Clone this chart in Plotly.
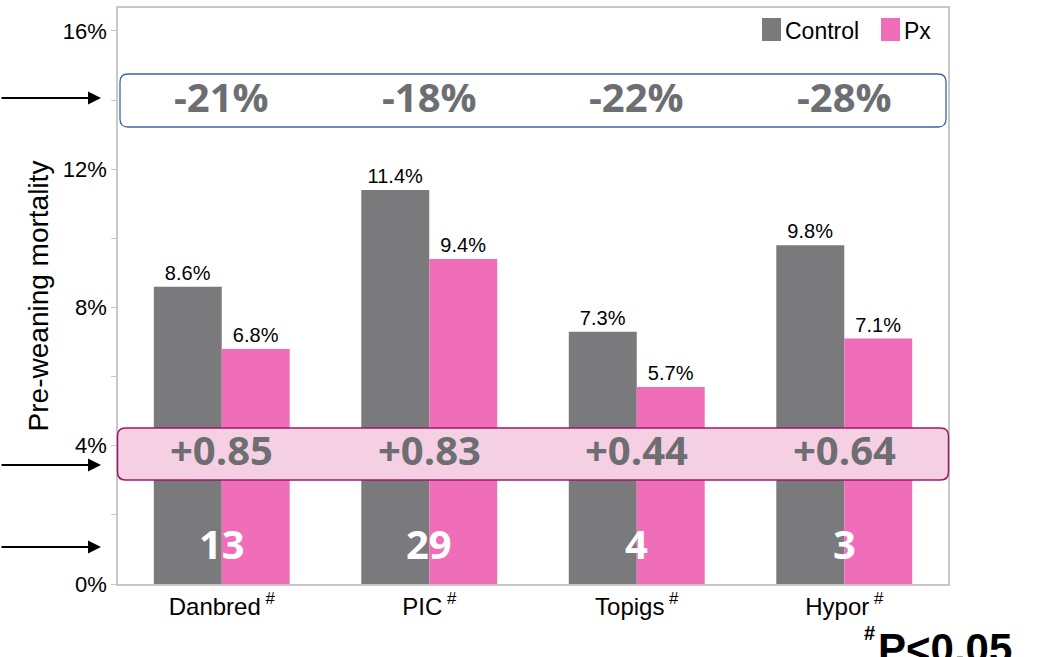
import plotly.graph_objects as go

categories = ["Danbred", "PIC", "Topigs", "Hypor"]
tick_labels = ["Danbred<sup> #</sup>", "PIC<sup> #</sup>", "Topigs<sup> #</sup>", "Hypor<sup> #</sup>"]
control = [8.6, 11.4, 7.3, 9.8]
px_vals = [6.8, 9.4, 5.7, 7.1]
reduction = [-21, -18, -22, -28]
gain = [0.85, 0.83, 0.44, 0.64]
n_farms = [13, 29, 4, 3]
series_names = ["Control", "Px"]

GRAY = "#7a7a7c"
PINK = "#f06eb9"
TXT = "#6d6e71"
BIG_FONT = "Open Sans"
FONT = "Liberation Sans, Arial, sans-serif"

W, H = 1043, 657
ML, MR, MT, MB = 118, 95, 8, 73
PW, PH = W - ML - MR, H - MT - MB


def px2x(px):
    return (px - ML) / PW


def px2y(py):
    return (H - MB - py) / PH


def rounded(x0p, y0p, x1p, y1p, r):
    x0, x1 = px2x(x0p), px2x(x1p)
    yt, yb = px2y(y0p), px2y(y1p)
    rx, ry = r / PW, r / PH
    return (f"M{x0+rx},{yt} L{x1-rx},{yt} Q{x1},{yt} {x1},{yt-ry} "
            f"L{x1},{yb+ry} Q{x1},{yb} {x1-rx},{yb} L{x0+rx},{yb} "
            f"Q{x0},{yb} {x0},{yb+ry} L{x0},{yt-ry} Q{x0},{yt} {x0+rx},{yt} Z")


fig = go.Figure()
for name, vals, col in [(series_names[0], control, GRAY), (series_names[1], px_vals, PINK)]:
    fig.add_trace(go.Bar(
        x=categories, y=vals, name=name, marker=dict(color=col, line=dict(width=0)),
        text=[f"{v:.1f}%" for v in vals], textposition="outside", constraintext="none",
        textfont=dict(family=FONT, size=20, color="black"), cliponaxis=False,
        showlegend=False,
    ))

shapes = [
    dict(type="path", xref="paper", yref="paper", path=rounded(120, 74, 946, 127, 8),
         line=dict(color="#3d64a8", width=1.3), fillcolor="white", layer="above"),
    dict(type="path", xref="paper", yref="paper", path=rounded(117.5, 428, 948.5, 480, 8),
         line=dict(color="#9a1a6a", width=1.5), fillcolor="#f5d0e3", layer="above"),
    # manual legend swatches
    dict(type="rect", xref="paper", yref="paper", x0=px2x(762), x1=px2x(781),
         y0=px2y(41), y1=px2y(18), fillcolor=GRAY, line=dict(width=0)),
    dict(type="rect", xref="paper", yref="paper", x0=px2x(881), x1=px2x(900),
         y0=px2y(41), y1=px2y(18), fillcolor=PINK, line=dict(width=0)),
]

ann = []
for c, r, g, n in zip(categories, reduction, gain, n_farms):
    ann.append(dict(x=c, xref="x", y=px2y(96), yref="paper", text=f"{r}%", showarrow=False,
                    font=dict(family=BIG_FONT, size=40, color=TXT, weight="bold"), yanchor="middle"))
    ann.append(dict(x=c, xref="x", y=px2y(449), yref="paper", text=f"+{g:.2f}", showarrow=False,
                    font=dict(family=BIG_FONT, size=40, color=TXT, weight="bold"), yanchor="middle"))
    ann.append(dict(x=c, xref="x", y=px2y(543), yref="paper", text=f"{n}", showarrow=False,
                    font=dict(family=BIG_FONT, size=40, color="white", weight="bold"), yanchor="middle"))

# legend labels
ann.append(dict(x=px2x(783), y=px2y(31), xref="paper", yref="paper", text=series_names[0],
                showarrow=False, xanchor="left", yanchor="middle",
                font=dict(family=FONT, size=23, color="black")))
ann.append(dict(x=px2x(902), y=px2y(31), xref="paper", yref="paper", text=series_names[1],
                showarrow=False, xanchor="left", yanchor="middle",
                font=dict(family=FONT, size=23, color="black")))

# arrows on the left
for ypix in [98, 465, 547]:
    ann.append(dict(x=px2x(101), y=px2y(ypix), xref="paper", yref="paper", text="",
                    showarrow=True, ax=-101, ay=0, axref="pixel", ayref="pixel",
                    arrowhead=2, arrowsize=1.3, arrowwidth=2, arrowcolor="black"))

# footnote
ann.append(dict(x=px2x(1014), y=px2y(623), xref="paper", yref="paper",
                text="P&lt;0.05", showarrow=False, xanchor="right", yanchor="top",
                font=dict(family=FONT, size=42, color="black", weight="bold")))
ann.append(dict(x=px2x(877), y=px2y(633), xref="paper", yref="paper",
                text="#", showarrow=False, xanchor="right", yanchor="middle",
                font=dict(family=FONT, size=20, color="black", weight="bold")))

fig.update_layout(
    width=W, height=H, margin=dict(l=ML, r=MR, t=MT, b=MB, autoexpand=False),
    plot_bgcolor="white", paper_bgcolor="white",
    barmode="group", bargap=0.345, bargroupgap=0,
    shapes=shapes, annotations=ann,
    font=dict(family=FONT, color="black"),
)
fig.update_xaxes(
    tickvals=categories, ticktext=tick_labels, tickfont=dict(size=24, family=FONT),
    showline=True, mirror=True, linecolor="#c8c8c8", linewidth=1.5, ticks="",
    showgrid=False, automargin=False,
)
fig.update_yaxes(
    range=[0, 16.665], tickvals=[0, 4, 8, 12, 16], ticktext=["0%", "4%", "8%", "12%", "16%"],
    tickfont=dict(size=22, family=FONT), ticks="outside", ticklen=5, tickcolor="#c8c8c8",
    minor=dict(dtick=2, ticks="outside", ticklen=5, tickcolor="#c8c8c8"),
    showline=True, mirror=True, linecolor="#c8c8c8", linewidth=1.5, showgrid=False,
    zeroline=False, automargin=False,
    title=dict(text="Pre-weaning mortality", font=dict(size=28, family=FONT), standoff=6),
)

fig.write_html("out.html", config={"displayModeBar": False},
               post_script="document.body.style.margin='0';document.body.style.overflow='hidden';")
